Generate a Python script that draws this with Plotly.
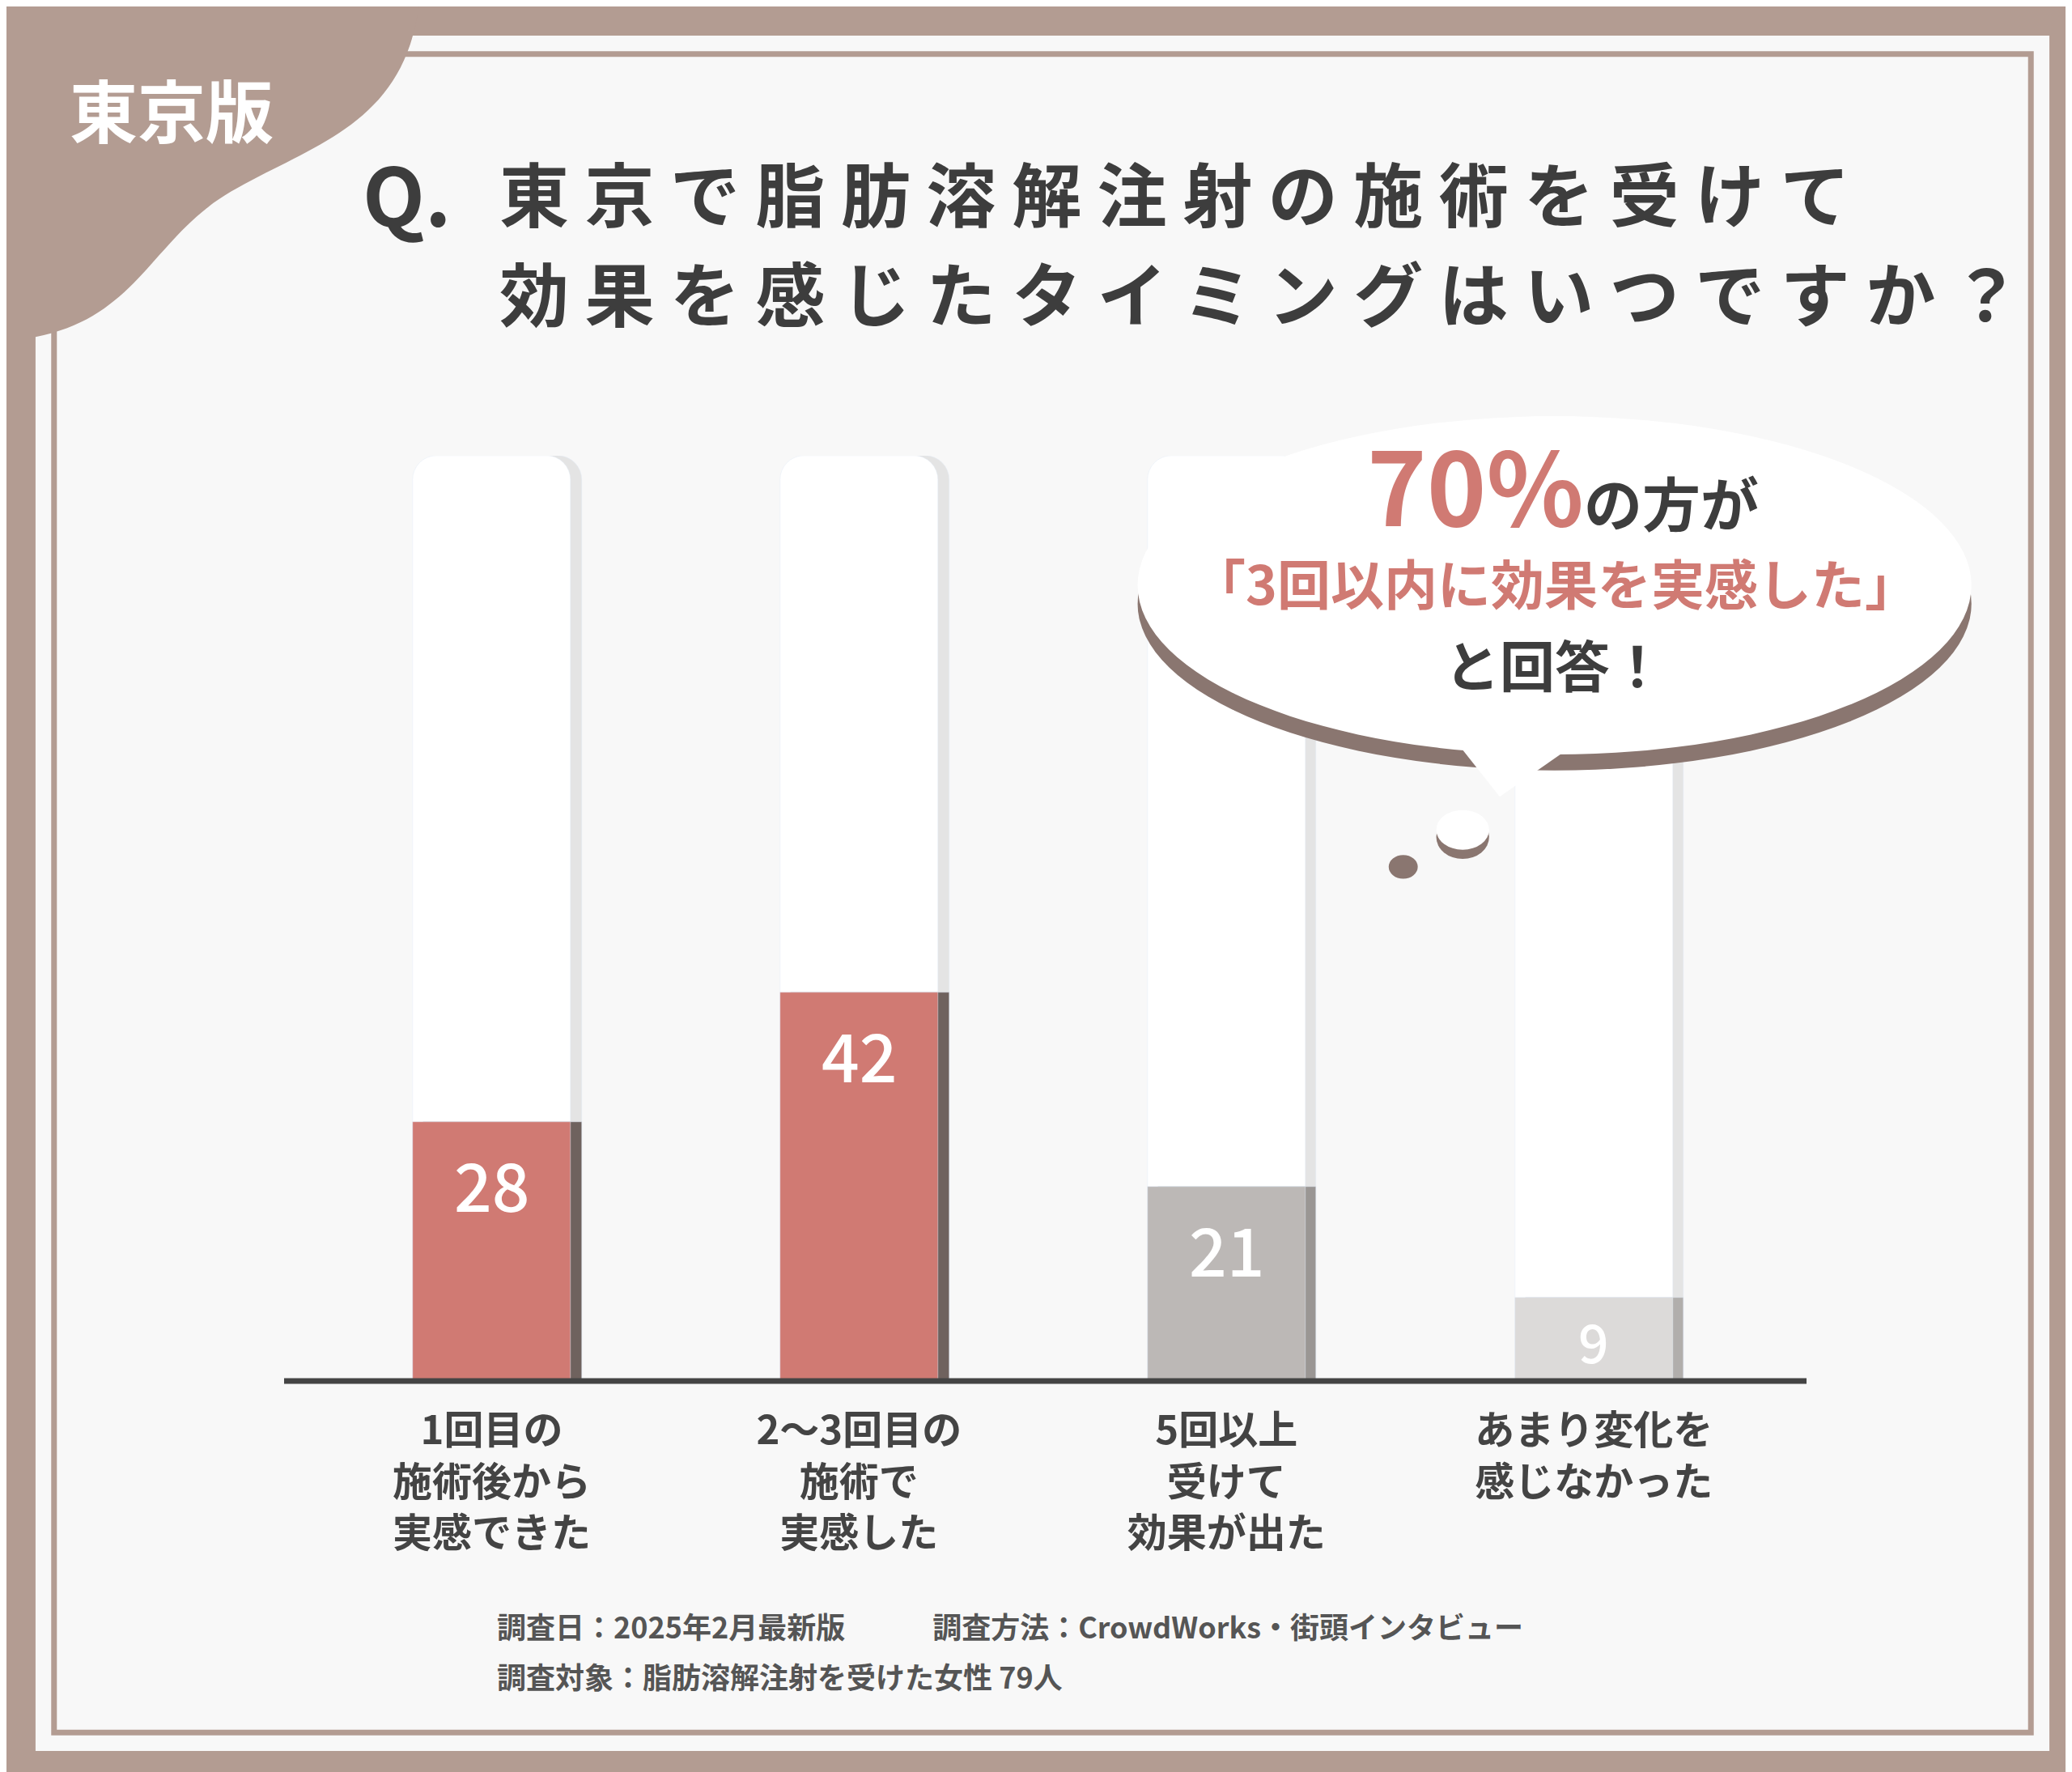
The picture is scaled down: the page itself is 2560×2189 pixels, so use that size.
import plotly.graph_objects as go

categories = ["1回目の<br>施術後から<br>実感できた", "2〜3回目の<br>施術で<br>実感した",
              "5回以上<br>受けて<br>効果が出た", "あまり変化を<br>感じなかった<br> "]
values = [28, 42, 21, 9]
bar_colors = ["#d07a73", "#d07a73", "#bcb8b6", "#dcdad9"]
shadow_colors = ["#6f625e", "#6f625e", "#9a9694", "#b1aeac"]
full_scale = [100, 100, 100, 100]

FONT = "Noto Sans CJK JP"
W_PX, H_PX = 2560, 2189
S = W_PX / 1568  # reference drawn at 1568 wide
L, R, T, B = 343, 336, 555, 491
PW, PH = W_PX - L - R, H_PX - T - B


def fx(d):
    return (d * S - L) / PW


def fy(d):
    return 1 - (d * S - T) / PH


def path(points):
    return "M " + " L ".join(f"{fx(x)},{fy(y)}" for x, y in points) + " Z"


xs = list(range(len(categories)))
fig = go.Figure()
# background columns
fig.add_bar(x=xs, y=full_scale, width=0.43, offset=-0.185, marker_color="#e4e4e4",
            hoverinfo="skip", showlegend=False)
fig.add_bar(x=xs, y=full_scale, width=0.43, offset=-0.215, marker_color="#ffffff",
            hoverinfo="skip", showlegend=False)
# shadow + value bars
fig.add_bar(x=xs, y=values, width=0.43, offset=-0.185, marker_color=shadow_colors,
            hoverinfo="skip", showlegend=False)
fig.add_bar(x=xs, y=values, width=0.43, offset=-0.215, marker_color=bar_colors,
            showlegend=False)

for x, v in zip(xs, values):
    fig.add_annotation(x=x, y=v, text=str(v), showarrow=False, yanchor="top",
                       yshift=-14 if v > 15 else -2,
                       font=dict(family=FONT, size=82 if v > 15 else 66, color="white", weight=500))

shapes = []
# white panel and double frame
shapes.append(dict(type="rect", xref="paper", yref="paper", x0=fx(22), x1=fx(1546), y0=fy(1320), y1=fy(22),
                   fillcolor="#f8f8f8", line=dict(width=0), layer="below"))
shapes.append(dict(type="rect", xref="paper", yref="paper", x0=fx(36), x1=fx(1532), y0=fy(1306), y1=fy(36),
                   fillcolor="rgba(0,0,0,0)", line=dict(color="#b39c92", width=7), layer="below"))
# corner tab
tab = (f"M {fx(0)},{fy(0)} L {fx(312)},{fy(0)} "
       f"C {fx(300)},{fy(90)} {fx(230)},{fy(105)} {fx(170)},{fy(140)} "
       f"C {fx(110)},{fy(175)} {fx(100)},{fy(235)} {fx(22)},{fy(250)} "
       f"L {fx(0)},{fy(250)} Z")
shapes.append(dict(type="path", xref="paper", yref="paper", path=tab, fillcolor="#b39c92",
                   line=dict(width=0), layer="below"))
# baseline
shapes.append(dict(type="line", xref="paper", yref="paper", x0=0, x1=1, y0=0, y1=0,
                   line=dict(color="#444444", width=7)))
# speech bubble
shapes.append(dict(type="circle", xref="paper", yref="paper", x0=fx(856), x1=fx(1487), y0=fy(578), y1=fy(326),
                   fillcolor="#8a7670", line=dict(width=0)))
shapes.append(dict(type="circle", xref="paper", yref="paper", x0=fx(856), x1=fx(1487), y0=fy(566), y1=fy(310),
                   fillcolor="#ffffff", line=dict(width=0)))
shapes.append(dict(type="path", xref="paper", yref="paper",
                   path=path([(1100, 560), (1130, 598), (1180, 563)]),
                   fillcolor="#ffffff", line=dict(width=0)))
shapes.append(dict(type="circle", xref="paper", yref="paper", x0=fx(1082), x1=fx(1122), y0=fy(645), y1=fy(612),
                   fillcolor="#8a7670", line=dict(width=0)))
shapes.append(dict(type="circle", xref="paper", yref="paper", x0=fx(1082), x1=fx(1122), y0=fy(638), y1=fy(608),
                   fillcolor="#ffffff", line=dict(width=0)))
shapes.append(dict(type="circle", xref="paper", yref="paper", x0=fx(1046), x1=fx(1068), y0=fy(660), y1=fy(642),
                   fillcolor="#8a7670", line=dict(width=0)))
fig.update_layout(shapes=shapes)


def note(x, y, text, size, color, anchor="left", weight="bold"):
    fig.add_annotation(xref="paper", yref="paper", x=fx(x), y=fy(y), text=text, showarrow=False,
                       xanchor=anchor, yanchor="middle",
                       font=dict(family=FONT, size=size, color=color, weight=weight))


note(125, 77, "東京版", 84, "#ffffff", "center")
note(268, 140, "Q.", 100, "#3d3d3d")
note(372, 140, "東 京 で 脂 肪 溶 解 注 射 の 施 術 を 受 け て", 86, "#3d3d3d")
note(372, 215, "効 果 を 感 じ た タ イ ミ ン グ は い つ で す か ？", 86, "#3d3d3d")
note(1178, 360, "<span style='font-size:125px;color:#d07a73'>70%</span><span style='font-size:72px'>の方が</span>",
     72, "#3d3d3d", "center")
note(1172, 435, "「3回以内に効果を実感した」", 66, "#d07a73", "center")
note(1172, 497, "と回答！", 68, "#3d3d3d", "center")
note(370, 1225, "調査日：2025年2月最新版　　　調査方法：CrowdWorks・街頭インタビュー", 36, "#555555")
note(370, 1263, "調査対象：脂肪溶解注射を受けた女性 79人", 36, "#555555")

fig.update_layout(
    width=W_PX, height=H_PX,
    margin=dict(l=L, r=R, t=T, b=B),
    paper_bgcolor="#b39c92", plot_bgcolor="rgba(0,0,0,0)",
    barmode="overlay", bargap=0, barcornerradius=30,
    xaxis=dict(range=[-0.565, 3.579], tickvals=xs, ticktext=categories, showgrid=False,
               zeroline=False, showline=False, ticks="", ticklabelstandoff=28,
               tickfont=dict(family=FONT, size=49, color="#444444", weight="bold")),
    yaxis=dict(range=[0, 100], visible=False),
)

fig.write_html("out.html")
